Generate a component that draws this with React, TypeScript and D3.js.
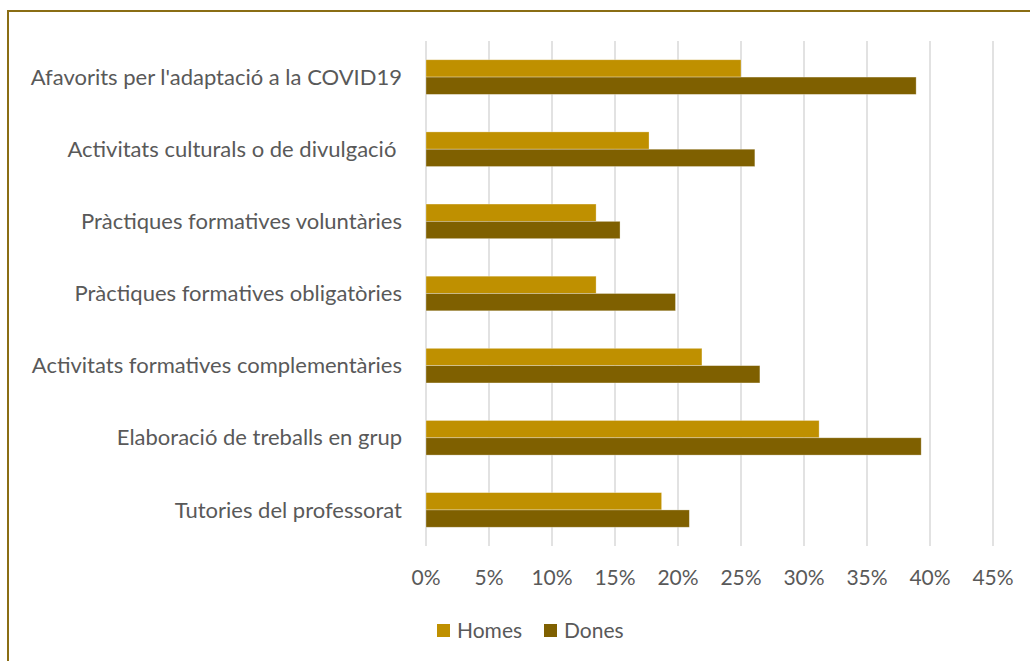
import { useEffect, useRef } from "react";
import * as d3 from "d3";

const categories = [
  "Afavorits per l'adaptació a la COVID19",
  "Activitats culturals o de divulgació ",
  "Pràctiques formatives voluntàries",
  "Pràctiques formatives obligatòries",
  "Activitats formatives complementàries",
  "Elaboració de treballs en grup",
  "Tutories del professorat",
];
const homes = [25.0, 17.7, 13.5, 13.5, 21.9, 31.2, 18.7];
const dones = [38.9, 26.1, 15.4, 19.8, 26.5, 39.3, 20.9];
const seriesNames = ["Homes", "Dones"];
const seriesColors = ["#BF9000", "#7F6000"];
const xTicks = [0, 5, 10, 15, 20, 25, 30, 35, 40, 45];

const W = 1030;
const H = 661;
const FONT = "Lato, 'Open Sans', sans-serif";
const TEXT = "#595959";

export default function App() {
  const svgRef = useRef<SVGSVGElement>(null);

  useEffect(() => {
    const svg = d3.select(svgRef.current);
    svg.selectAll("*").remove();

    // outer chart border (runs off the right and bottom edge)
    svg.append("rect")
      .attr("x", 8)
      .attr("y", 11)
      .attr("width", 1100)
      .attr("height", 800)
      .attr("fill", "none")
      .attr("stroke", "#8a6d14")
      .attr("stroke-width", 2);

    const x = d3.scaleLinear().domain([0, 45]).range([426, 993]);
    const y = d3.scaleBand<string>()
      .domain(categories)
      .range([41, 546])
      .paddingInner(0.52)
      .paddingOuter(0.26);
    const ySub = d3.scaleBand<string>()
      .domain(seriesNames)
      .range([0, y.bandwidth()]);

    // gridlines
    svg.append("g")
      .selectAll("line")
      .data(xTicks)
      .enter()
      .append("line")
      .attr("x1", d => x(d))
      .attr("x2", d => x(d))
      .attr("y1", 41)
      .attr("y2", 546)
      .attr("stroke", "#D9D9D9")
      .attr("stroke-width", 1.5);

    // tick labels
    svg.append("g")
      .selectAll("text")
      .data(xTicks)
      .enter()
      .append("text")
      .attr("x", d => x(d))
      .attr("y", 578)
      .attr("dy", "0.35em")
      .attr("text-anchor", "middle")
      .attr("fill", TEXT)
      .attr("font-family", FONT)
      .attr("font-size", 21)
      .text(d => `${d}%`);

    // category labels
    svg.append("g")
      .selectAll("text")
      .data(categories)
      .enter()
      .append("text")
      .attr("x", 402)
      .attr("y", d => (y(d) ?? 0) + y.bandwidth() / 2)
      .attr("dy", "0.35em")
      .attr("text-anchor", "end")
      .attr("fill", TEXT)
      .attr("font-family", FONT)
      .attr("font-size", 22)
      .style("white-space", "pre")
      .text(d => d);

    // bars
    const rows = categories.map((c, i) => ({ c, vals: [homes[i], dones[i]] }));
    const groups = svg.append("g")
      .selectAll("g")
      .data(rows)
      .enter()
      .append("g")
      .attr("transform", d => `translate(0,${y(d.c)})`);

    groups.selectAll("rect")
      .data(d => d.vals.map((v, j) => ({ v, s: seriesNames[j], j })))
      .enter()
      .append("rect")
      .attr("x", x(0))
      .attr("y", d => ySub(d.s) ?? 0)
      .attr("width", d => x(d.v) - x(0))
      .attr("height", ySub.bandwidth())
      .attr("fill", d => seriesColors[d.j])
      .attr("stroke", "#fff")
      .attr("stroke-opacity", 0.4)
      .attr("stroke-width", 0.75);

    // legend
    const legendItems = [
      { name: "Homes", sx: 437, tx: 457 },
      { name: "Dones", sx: 544, tx: 564 },
    ];
    const legend = svg.append("g");
    legendItems.forEach((item, j) => {
      legend.append("rect")
        .attr("x", item.sx)
        .attr("y", 624)
        .attr("width", 13)
        .attr("height", 13)
        .attr("fill", seriesColors[j]);
      legend.append("text")
        .attr("x", item.tx)
        .attr("y", 631)
        .attr("dy", "0.35em")
        .attr("fill", TEXT)
        .attr("font-family", FONT)
        .attr("font-size", 21)
        .text(item.name);
    });
  }, []);

  return (
    <svg
      ref={svgRef}
      width={W}
      height={H}
      style={{ position: "absolute", left: 0, top: 0, background: "#fff" }}
    />
  );
}
